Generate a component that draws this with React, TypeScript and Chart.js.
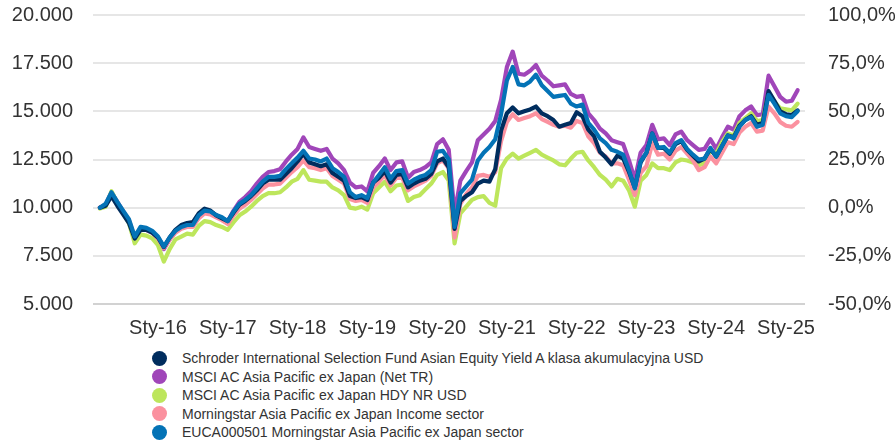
import React, { useEffect, useRef } from "react";
import { Chart, registerables } from "chart.js";

Chart.register(...registerables);

// Monthly observation dates, Mar 2015 .. Mar 2025
const months: string[] = (() => {
  const out: string[] = [];
  let y = 2015;
  let m = 3;
  while (out.length < 121) {
    out.push(`${y}-${String(m).padStart(2, "0")}`);
    m++;
    if (m > 12) { m = 1; y++; }
  }
  return out;
})();

const xTickLabels = ["Sty-16", "Sty-17", "Sty-18", "Sty-19", "Sty-20", "Sty-21", "Sty-22", "Sty-23", "Sty-24", "Sty-25"];
const leftTickLabels = ["5.000", "7.500", "10.000", "12.500", "15.000", "17.500", "20.000"];
const rightTickLabels = ["-50,0%", "-25,0%", "0,0%", "25,0%", "50,0%", "75,0%", "100,0%"];

const seriesNames = [
  "Schroder International Selection Fund Asian Equity Yield A klasa akumulacyjna USD",
  "MSCI AC Asia Pacific ex Japan (Net TR)",
  "MSCI AC Asia Pacific ex Japan HDY NR USD",
  "Morningstar Asia Pacific ex Japan Income sector",
  "EUCA000501 Morningstar Asia Pacific ex Japan sector",
];
const seriesColors = ["#002d5e", "#a046b9", "#bde65c", "#fb919f", "#0473b6"];

// values in thousands (growth of 10.000)
const schroder = [
  10.00, 10.10, 10.60, 10.10, 9.65, 9.20, 8.40, 8.85, 8.85, 8.70,
  8.45, 7.95, 8.45, 8.85, 9.10, 9.20, 9.25, 9.70, 9.95, 9.85, 9.60, 9.45,
  9.30, 9.75, 10.15, 10.35, 10.60, 10.90, 11.25, 11.45, 11.45, 11.45, 11.75, 12.05,
  12.40, 12.80, 12.35, 12.25, 12.15, 12.25, 11.80, 11.60, 11.40, 10.60, 10.50, 10.55,
  10.40, 11.30, 11.55, 11.90, 11.30, 11.70, 11.75, 11.05, 11.25, 11.40, 11.50, 11.75,
  12.40, 12.55, 12.10, 8.90, 10.35, 10.60, 10.80, 11.25, 11.40, 11.35, 12.00, 14.00,
  14.90, 15.20, 14.90, 15.00, 15.10, 15.25, 14.90, 14.75, 14.55, 14.20, 14.30, 14.40,
  14.95, 14.75, 14.05, 13.70, 12.90, 12.60, 12.25, 12.70, 12.55, 11.85, 11.05, 12.35,
  12.85, 13.85, 13.10, 13.10, 12.80, 13.30, 13.45, 13.00, 12.70, 12.40, 12.55, 13.05,
  12.65, 13.20, 13.75, 13.65, 14.25, 14.55, 14.75, 14.30, 14.40, 16.05, 15.55, 15.00,
  14.85, 14.80, 15.05,
];
const msciNetTR = [
  10.00, 10.15, 10.80, 10.30, 9.80, 9.30, 8.40, 8.95, 8.85, 8.70,
  8.40, 7.85, 8.35, 8.75, 8.95, 9.10, 9.05, 9.60, 9.85, 9.80, 9.60, 9.45,
  9.30, 9.85, 10.30, 10.55, 10.85, 11.25, 11.60, 11.85, 11.90, 12.00, 12.40, 12.75,
  13.05, 13.65, 13.15, 13.05, 12.95, 13.05, 12.55, 12.30, 11.95, 11.30, 11.05, 11.10,
  10.85, 11.80, 12.15, 12.55, 11.95, 12.35, 12.40, 11.55, 11.85, 11.95, 12.10, 12.35,
  13.30, 13.55, 13.00, 9.70, 11.40, 11.90, 12.35, 13.50, 13.80, 14.10, 14.50, 15.60,
  17.30, 18.10, 16.95, 16.90, 17.10, 17.40, 16.85, 16.60, 16.30, 16.35, 16.40, 15.90,
  15.75, 15.80, 14.90, 14.55, 14.10, 13.85, 13.50, 13.40, 13.30, 12.45, 11.45, 12.85,
  13.25, 14.30, 13.55, 13.60, 13.25, 13.80, 13.95, 13.50, 13.25, 13.00, 13.05, 13.55,
  13.05, 13.65, 14.20, 14.05, 14.75, 15.05, 15.25, 14.80, 14.85, 16.85, 16.30, 15.75,
  15.50, 15.55, 16.10,
];
const msciHDY = [
  9.95, 10.05, 10.85, 10.25, 9.70, 9.20, 8.15, 8.60, 8.55, 8.40,
  8.05, 7.20, 7.85, 8.35, 8.50, 8.65, 8.60, 9.05, 9.30, 9.25, 9.10, 9.00,
  8.85, 9.25, 9.60, 9.80, 10.05, 10.35, 10.60, 10.75, 10.75, 10.80, 11.05, 11.35,
  11.50, 11.95, 11.45, 11.40, 11.35, 11.35, 11.05, 10.90, 10.65, 10.00, 9.95, 10.05,
  9.90, 10.75, 11.05, 11.35, 10.85, 11.15, 11.20, 10.35, 10.55, 10.65, 10.95, 11.25,
  11.70, 11.85, 11.40, 8.15, 9.70, 10.05, 10.40, 10.55, 10.60, 10.25, 10.10, 12.05,
  12.55, 12.80, 12.55, 12.70, 12.85, 13.00, 12.75, 12.60, 12.45, 12.25, 12.20, 12.55,
  12.85, 12.90, 12.45, 12.10, 11.70, 11.45, 11.10, 11.50, 11.40, 10.90, 10.05, 11.40,
  11.70, 12.30, 12.05, 12.05, 11.95, 12.35, 12.50, 12.45, 12.35, 12.20, 12.30, 12.95,
  12.80, 13.40, 13.85, 13.75, 14.40, 14.65, 14.90, 14.50, 14.55, 15.95, 15.50, 15.15,
  15.10, 15.05, 15.40,
];
const incomeSector = [
  10.00, 10.15, 10.75, 10.25, 9.80, 9.35, 8.45, 8.90, 8.85, 8.70,
  8.40, 7.90, 8.35, 8.70, 8.90, 9.00, 9.00, 9.45, 9.70, 9.65, 9.50, 9.35,
  9.15, 9.60, 9.95, 10.15, 10.40, 10.70, 11.00, 11.20, 11.20, 11.25, 11.55, 11.85,
  12.10, 12.45, 12.10, 12.05, 11.95, 12.05, 11.65, 11.45, 11.25, 10.45, 10.35, 10.40,
  10.25, 11.05, 11.35, 11.70, 11.15, 11.55, 11.55, 10.90, 11.10, 11.25, 11.40, 11.65,
  12.30, 12.45, 12.05, 8.45, 10.20, 10.70, 11.05, 11.65, 11.70, 11.60, 11.85, 13.45,
  14.45, 14.85, 14.55, 14.65, 14.75, 14.90, 14.60, 14.45, 14.30, 14.20, 14.25, 14.15,
  14.50, 14.40, 13.70, 13.35, 12.85, 12.65, 12.30, 12.30, 12.20, 11.45, 10.65, 11.80,
  12.15, 13.35, 12.75, 12.80, 12.50, 12.95, 13.15, 12.80, 12.45, 11.95, 12.10, 12.65,
  12.30, 12.85, 13.40, 13.30, 13.90, 14.20, 14.40, 13.95, 14.00, 15.25, 14.90, 14.45,
  14.25, 14.20, 14.45,
];
const apxjSector = [
  10.00, 10.20, 10.80, 10.30, 9.85, 9.40, 8.50, 9.00, 8.95, 8.80,
  8.50, 7.98, 8.45, 8.80, 9.00, 9.10, 9.10, 9.60, 9.85, 9.80, 9.62, 9.50,
  9.30, 9.80, 10.20, 10.40, 10.65, 11.00, 11.35, 11.60, 11.60, 11.65, 12.00, 12.30,
  12.60, 12.95, 12.55, 12.50, 12.40, 12.55, 12.05, 11.85, 11.60, 10.80, 10.55, 10.65,
  10.50, 11.30, 11.70, 12.10, 11.50, 11.90, 11.95, 11.25, 11.45, 11.60, 11.70, 11.95,
  12.90, 12.95, 12.50, 9.00, 10.75, 11.10, 11.45, 12.45, 12.85, 13.15, 13.55, 14.85,
  16.60, 17.30, 16.40, 16.35, 16.55, 16.90, 16.35, 16.05, 15.75, 15.80, 15.85, 15.40,
  15.25, 15.35, 14.40, 14.05, 13.60, 13.35, 13.00, 12.90, 12.75, 11.95, 11.00, 12.40,
  12.85, 13.85, 13.10, 13.15, 12.85, 13.35, 13.50, 13.05, 12.75, 12.50, 12.55, 13.10,
  12.65, 13.20, 13.75, 13.60, 14.20, 14.55, 14.70, 14.20, 14.30, 15.85, 15.40, 14.90,
  14.75, 14.70, 15.00,
];

const allSeries = [schroder, msciNetTR, msciHDY, incomeSector, apxjSector];
const drawOrder = [1, 4, 3, 2, 0];

const monthToX = (mo: string) => {
  const [y, m] = mo.split("-").map(Number);
  return (y - 2016) * 12 + (m - 1);
};

const FONT = '"Liberation Sans", Arial, sans-serif';

const fitVertical = (w: number) => (scale: any) => {
  scale.width = w;
  scale.paddingTop = 0;
  scale.paddingBottom = 0;
};

export default function App() {
  const ref = useRef<HTMLCanvasElement | null>(null);

  useEffect(() => {
    if (!ref.current) return;
    const datasets = allSeries.map((s, k) => ({
      label: seriesNames[k],
      data: months.map((mo, i) => ({ x: monthToX(mo), y: s[i] * 1000 })),
      borderColor: seriesColors[k],
      backgroundColor: seriesColors[k],
      borderWidth: 4.2,
      pointRadius: 0,
      tension: 0,
      borderJoinStyle: "round" as const,
      borderCapStyle: "round" as const,
      order: drawOrder[k],
      yAxisID: "y",
    }));
    const xTickValues = xTickLabels.map((_, k) => k * 12);
    const chart = new Chart(ref.current, {
      type: "line",
      data: { datasets },
      options: {
        animation: false,
        responsive: false,
        layout: { padding: { top: 15, left: 0, right: 0, bottom: 0 } },
        plugins: { legend: { display: false }, tooltip: { enabled: false } },
        scales: {
          x: {
            type: "linear",
            min: -11.18,
            max: 111.27,
            afterBuildTicks: (scale: any) => {
              scale.ticks = xTickValues.map((v) => ({ value: v }));
            },
            afterFit: (scale: any) => {
              scale.height = 38;
              scale.paddingLeft = 0;
              scale.paddingRight = 0;
            },
            grid: { display: false, drawTicks: false },
            border: { display: false },
            ticks: {
              autoSkip: false,
              maxRotation: 0,
              padding: 12,
              color: "#333333",
              font: { family: FONT, size: 20 },
              callback: (_v: any, i: number) => xTickLabels[i],
            },
          },
          y: {
            position: "left",
            min: 5000,
            max: 20000,
            afterBuildTicks: (scale: any) => {
              scale.ticks = leftTickLabels.map((_, k) => ({ value: 5000 + k * 2500 }));
            },
            afterFit: fitVertical(93),
            grid: {
              drawTicks: false,
              lineWidth: 2,
              color: (c: any) => (c.tick && c.tick.value === 5000 ? "#d2d2d2" : "#e6e6e6"),
            },
            border: { display: false },
            ticks: {
              padding: 20,
              color: "#333333",
              font: { family: FONT, size: 20 },
              callback: (_v: any, i: number) => leftTickLabels[i],
            },
          },
          y1: {
            position: "right",
            min: -50,
            max: 100,
            afterBuildTicks: (scale: any) => {
              scale.ticks = rightTickLabels.map((_, k) => ({ value: -50 + k * 25 }));
            },
            afterFit: fitVertical(90),
            grid: { display: false, drawTicks: false },
            border: { display: false },
            ticks: {
              padding: 23,
              color: "#333333",
              font: { family: FONT, size: 20 },
              callback: (_v: any, i: number) => rightTickLabels[i],
            },
          },
        },
      },
    });
    return () => chart.destroy();
  }, []);

  return (
    <div style={{ position: "fixed", left: 0, top: 0, width: 895, height: 444, background: "#fff", overflow: "hidden" }}>
      <canvas ref={ref} width={895} height={342} style={{ position: "absolute", left: 0, top: 0, width: 895, height: 342 }} />
      <div style={{ position: "absolute", left: 152, top: 349, fontFamily: FONT, fontSize: 14, color: "#333333" }}>
        {seriesNames.map((name, k) => (
          <div key={k} style={{ display: "flex", alignItems: "center", height: 18.5, whiteSpace: "nowrap" }}>
            <span style={{ display: "inline-block", width: 15, height: 15, borderRadius: "50%", background: seriesColors[k], marginRight: 15 }} />
            <span>{name}</span>
          </div>
        ))}
      </div>
    </div>
  );
}
